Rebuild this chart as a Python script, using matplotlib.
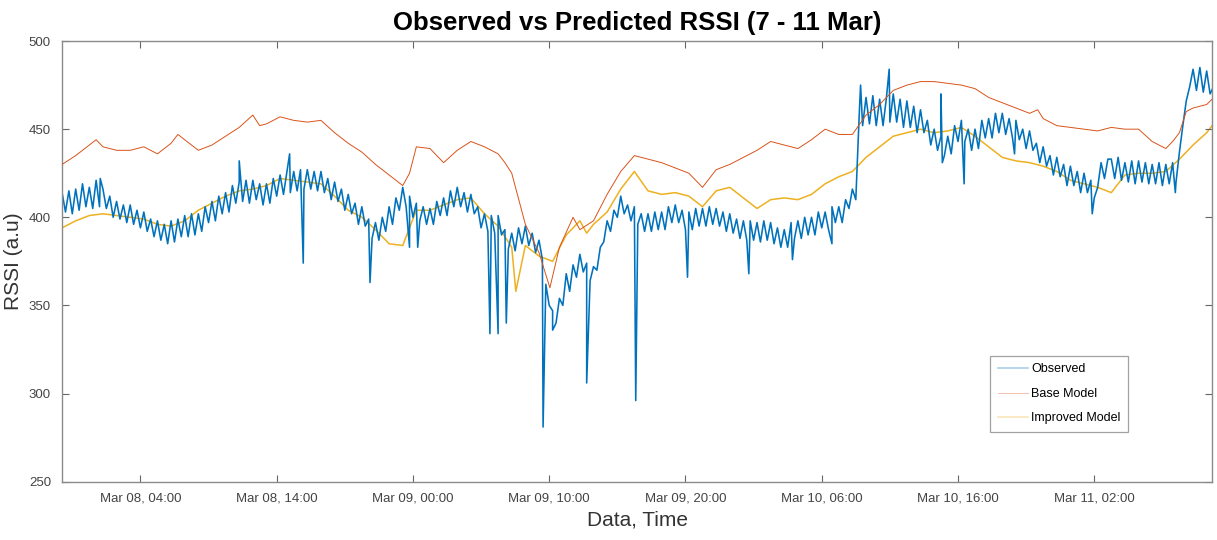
import numpy as np
import pandas as pd
import matplotlib
matplotlib.use("Agg")
import matplotlib.pyplot as plt
import matplotlib.dates as mdates

plt.rcParams['font.family'] = ['Liberation Sans', 'DejaVu Sans']

# Time origin of the series (hours are counted from here)
t0 = pd.Timestamp("2019-03-07 22:15")

# Observed RSSI, one reading every quarter hour (4 per row = 1 hour)
obs_step = 0.25
obs_vals = [
    414, 403, 415, 402,  416, 404, 419, 406,  417, 405, 421, 406,  416, 405, 412, 400,
    409, 399, 407, 397,  407, 396, 404, 394,  403, 392, 399, 389,  398, 387, 396, 385,
    398, 386, 399, 389,  401, 389, 402, 390,  402, 392, 406, 397,  409, 398, 412, 402,
    414, 403, 418, 408,  420, 409, 421, 408,  421, 410, 419, 407,  419, 408, 422, 412,
    424, 413, 426, 414,  426, 415, 427, 416,  427, 416, 426, 415,  426, 414, 422, 410,
    420, 409, 416, 404,  413, 402, 408, 396,  406, 395, 399, 388,  397, 387, 400, 392,
    406, 396, 411, 404,  417, 406, 412, 400,  408, 398, 406, 396,  405, 396, 409, 401,
    411, 401, 415, 406,  417, 406, 414, 403,  413, 402, 406, 394,  402, 392, 401, 391,
    401, 390, 393, 382,  391, 381, 394, 385,  395, 384, 391, 380,  387, 376, 362, 350,
    347, 340, 354, 350,  368, 358, 373, 366,  379, 369, 374, 364,  372, 370, 383, 386,
    398, 392, 404, 400,  412, 402, 407, 398,  406, 396, 402, 392,  402, 392, 403, 393,
    403, 393, 406, 397,  407, 397, 404, 393,  403, 393, 405, 395,  405, 395, 406, 396,
    405, 395, 403, 392,  402, 391, 399, 388,  398, 387, 398, 387,  397, 386, 398, 387,
    397, 385, 394, 383,  393, 383, 397, 388,  398, 388, 400, 390,  400, 390, 403, 394,
    403, 393, 406, 397,  406, 397, 410, 405,  416, 410, 458, 452,  468, 453, 469, 452,
    467, 452, 468, 454,  470, 454, 467, 451,  466, 451, 463, 448,  461, 448, 455, 441,
    450, 438, 446, 435,  446, 436, 452, 443,  455, 443, 450, 438,  450, 439, 455, 445,
    456, 445, 459, 448,  459, 447, 456, 445,  455, 444, 450, 439,  449, 438, 442, 431,
    440, 429, 435, 424,  434, 423, 430, 418,  429, 418, 426, 414,  425, 414, 421, 411,
    417, 431, 422, 433,  433, 422, 434, 421,  431, 420, 432, 419,  432, 420, 431, 419,
    430, 419, 431, 418,  430, 419, 431, 420,  437, 452, 466, 474,  484, 472, 485, 471,
    483, 470, 474,
]

# Short dips / peaks in the observed signal (hour, value)
spike_hours = [2.8, 13.0, 16.7, 17.7, 22.6, 25.5, 26.1, 31.4, 32.0, 32.6, 35.3, 36.0,
               38.5, 42.1, 45.9, 50.4, 53.6, 56.5, 58.6, 60.7, 64.5, 64.6, 66.2, 69.9,
               75.6, 81.7]
spike_vals = [422, 432, 436, 374, 363, 383, 383, 334, 334, 340, 281, 336,
              306, 296, 366, 368, 376, 385, 475, 484, 470, 431, 419, 436,
              402, 414]

# Base model prediction (hour, value)
base_hours = [0, 1, 2, 2.5, 3, 4, 5, 6, 7, 8, 8.5, 9, 10, 11, 12, 13, 14, 14.5, 15, 16,
              17, 18, 19, 20, 21, 22, 23, 24, 25, 25.5, 26, 27, 28, 29, 30, 31, 32, 32.5,
              33, 34, 35, 35.8, 36.5, 37.5, 38, 39, 40, 41, 42, 43, 44, 45, 46, 47, 48,
              49, 50, 51, 52, 53, 54, 55, 56, 57, 58, 59, 60, 61, 62, 63, 64, 65, 66, 67,
              68, 69, 70, 71, 71.6, 72, 73, 74, 75, 76, 77, 78, 79, 80, 81, 81.5, 82,
              82.5, 83, 84, 84.4]
base_vals = [430, 435, 441, 444, 440, 438, 438, 440, 436, 442, 447, 444, 438, 441, 446,
             451, 458, 452, 453, 457, 455, 454, 455, 448, 442, 437, 430, 424, 418, 425,
             440, 439, 431, 438, 443, 440, 436, 431, 425, 396, 380, 360, 383, 400, 393,
             398, 413, 426, 435, 433, 431, 428, 425, 417, 427, 430, 434, 438, 443, 441,
             439, 444, 450, 447, 447, 458, 464, 472, 475, 477, 477, 476, 475, 473, 468,
             465, 462, 459, 461, 456, 452, 451, 450, 449, 451, 450, 450, 443, 439, 443,
             448, 460, 462, 464, 467]

# Improved model prediction (hour, value)
impr_hours = [0, 1, 2, 3, 4, 5, 6, 7, 8, 9, 10, 11, 12, 13, 14, 15, 16, 17, 18, 19, 20,
              21, 22, 23, 24, 25, 26, 27, 28, 29, 30, 31, 32, 33, 33.3, 34, 35, 36, 37,
              38, 38.5, 39, 40, 41, 42, 43, 44, 45, 46, 47, 48, 49, 50, 51, 52, 53, 54,
              55, 56, 57, 58, 59, 60, 61, 62, 63, 64, 65, 66, 67, 68, 69, 70, 71, 72, 73,
              74, 75, 76, 77, 78, 79, 80, 81, 82, 83, 84, 84.4]
impr_vals = [394, 398, 401, 402, 401, 400, 399, 396, 395, 398, 404, 408, 412, 415, 416,
             418, 422, 421, 420, 419, 412, 404, 400, 393, 385, 384, 404, 404, 407, 410,
             411, 402, 395, 383, 358, 384, 378, 375, 390, 398, 391, 396, 403, 416, 426,
             415, 413, 414, 412, 406, 415, 417, 411, 405, 410, 411, 410, 413, 419, 423,
             426, 434, 440, 446, 448, 450, 448, 449, 451, 446, 440, 434, 432, 431, 429,
             426, 421, 419, 417, 414, 424, 425, 425, 426, 433, 441, 448, 452]

x_ticks = pd.date_range("2019-03-08 04:00", periods=8, freq="10h")


def to_time(hours):
    return t0 + pd.to_timedelta(np.asarray(hours, dtype=float), unit="h")


obs = pd.Series(obs_vals, index=to_time(np.arange(len(obs_vals)) * obs_step))
spk = pd.Series(spike_vals, index=to_time(spike_hours))
obs = pd.concat([obs, spk]).sort_index()

fig, ax = plt.subplots(figsize=(12.17, 5.4), dpi=100)
fig.subplots_adjust(left=0.051, right=0.996, bottom=0.108, top=0.924)

ax.plot(to_time(impr_hours), impr_vals, color="#EDB120", lw=1.1, zorder=1,
        label="Improved Model")
ax.plot(obs.index, obs.values, color="#0072BD", lw=1.15, zorder=2, label="Observed")
ax.plot(to_time(base_hours), base_vals, color="#D95319", lw=0.7, zorder=3,
        label="Base Model")

ax.set_xlim(t0, t0 + pd.Timedelta(hours=84.4))
ax.set_ylim(250, 500)
ax.set_yticks(range(250, 501, 50))
ax.set_xticks(x_ticks)
ax.xaxis.set_major_formatter(mdates.DateFormatter("%b %d, %H:%M"))

for s in ax.spines.values():
    s.set_color("#8a8a8a")
    s.set_linewidth(1.0)
ax.tick_params(direction="in", length=5, width=0.8, color="#666666",
               labelsize=9.5, labelcolor="#444444", top=True, right=True, pad=8)

ax.set_title("Observed vs Predicted RSSI (7 - 11 Mar)", fontsize=18.5,
             fontweight="bold", pad=8)
ax.set_xlabel("Data, Time", fontsize=15, color="#333333", labelpad=4)
ax.set_ylabel("RSSI (a.u)", fontsize=15, color="#333333", labelpad=4)

h, l = ax.get_legend_handles_labels()
order = [1, 2, 0]
leg = ax.legend([h[i] for i in order], [l[i] for i in order], loc="lower right",
                bbox_to_anchor=(0.927, 0.113), fontsize=9, frameon=True,
                fancybox=False, edgecolor="#8a8a8a", handlelength=2.4,
                labelspacing=1.0, borderpad=0.6, handletextpad=0.3,
                borderaxespad=0)
leg.get_frame().set_linewidth(0.9)
for line in leg.get_lines():
    line.set_alpha(0.35)

fig.savefig("out.png", dpi=100)
